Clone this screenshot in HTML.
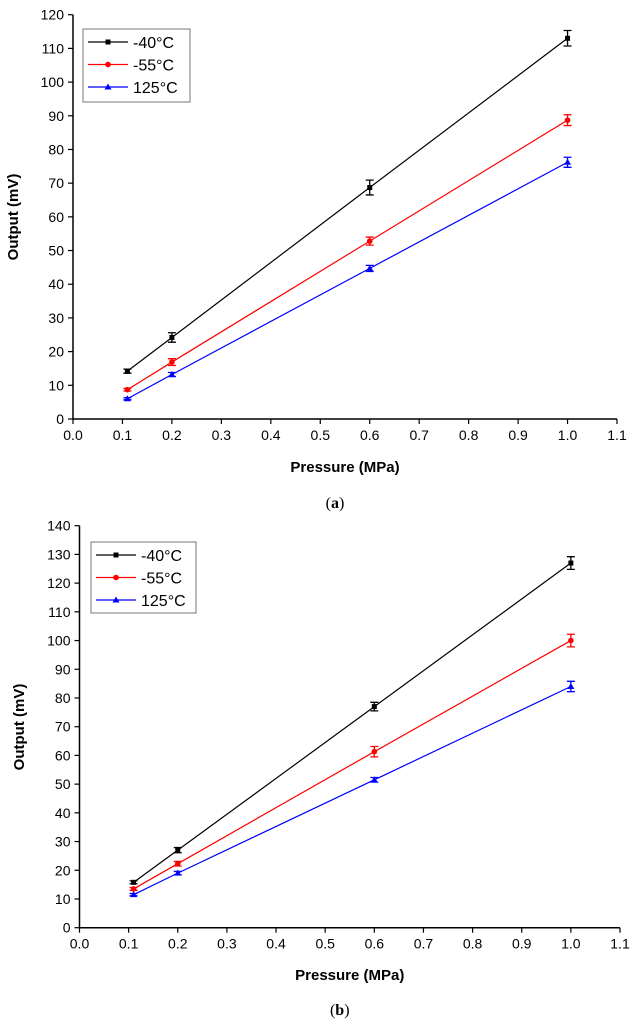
<!DOCTYPE html>
<html><head><meta charset="utf-8"><style>
body{margin:0;background:#fff;width:634px;height:1024px;overflow:hidden}
svg{display:block}
text{font-family:"Liberation Sans",sans-serif}
</style></head><body>
<svg id="svg" width="634" height="1024"></svg>
<script>
const categories=[0.11,0.2,0.6,1.0];
const seriesNames=["-40°C","-55°C","125°C"];
const aVals=[[14.2,24.2,68.7,113],[8.7,16.9,52.8,88.7],[6,13.2,44.7,76.2]];
const aErrs=[[0.6,1.4,2.2,2.3],[0.4,1,1.2,1.6],[0.3,0.6,0.9,1.5]];
const bVals=[[15.8,27,77,127],[13.5,22.3,61.3,100],[11.5,19,51.5,84]];
const bErrs=[[0.5,0.9,1.5,2.2],[0.5,0.8,1.8,2.2],[0.4,0.6,0.8,1.8]];
const xTicks=["0.0","0.1","0.2","0.3","0.4","0.5","0.6","0.7","0.8","0.9","1.0","1.1"];
const colors=["#000","#f00","#00f"];
const NS="http://www.w3.org/2000/svg";
const svg=document.getElementById('svg');
function el(t,a,p){const e=document.createElementNS(NS,t);for(const k in a)e.setAttribute(k,a[k]);(p||svg).appendChild(e);return e;}
function chart(cfg){
 const g=el('g',{});
 
 
 const X=v=>cfg.x0+(cfg.x1-cfg.x0)*v/1.1;
 const Y=v=>cfg.y0-(cfg.y0-cfg.y1)*v/cfg.ymax;
 const ax=el('path',{d:`M${cfg.x0},${cfg.y1} V${cfg.y0} H${cfg.x1}`,stroke:'#000','stroke-width':1.5,fill:'none'},g);
 
 xTicks.forEach((t,i)=>{const x=X(i*0.1);
  el('line',{x1:x,x2:x,y1:cfg.y0,y2:cfg.y0+5,stroke:'#000','stroke-width':1.2},g);
  const tx=el('text',{x:x,y:cfg.y0+21,'font-size':14,'text-anchor':'middle'},g);tx.textContent=t;
  });
 for(let v=0;v<=cfg.ymax;v+=10){const y=Y(v);
  el('line',{x1:cfg.x0-5,x2:cfg.x0,y1:y,y2:y,stroke:'#000','stroke-width':1.2},g);
  const tx=el('text',{x:cfg.x0-9,y:y+5,'font-size':14,'text-anchor':'end'},g);tx.textContent=v;
  }
 const yt=el('text',{transform:`translate(${cfg.ytx},${cfg.ytY}) rotate(-90)`,'font-size':15,'font-weight':'bold','text-anchor':'middle'},g);
 yt.textContent='Output (mV)';
 const xt=el('text',{x:(cfg.x0+cfg.x1)/2,y:cfg.xtY,'font-size':15,'font-weight':'bold','text-anchor':'middle'},g);
 xt.textContent='Pressure (MPa)';
 const cap=el('text',{x:(cfg.x0+cfg.x1)/2-10,y:cfg.capY,'font-size':16,'text-anchor':'middle',style:'font-family:"Liberation Serif",serif'},g);
 cap.innerHTML='(<tspan font-weight="bold">'+cfg.cap+'</tspan>)';
 cfg.vals.forEach((s,si)=>{
  const c=colors[si];
  const ln=el('polyline',{points:s.map((v,i)=>X(categories[i])+','+Y(v)).join(' '),stroke:c,fill:'none','stroke-width':1.2},g);
  
  s.forEach((v,i)=>{const x=X(categories[i]),y=Y(v),e=cfg.errs[si][i];
   const eb=el('path',{d:`M${x-4},${Y(v+e)}H${x+4}M${x},${Y(v+e)}V${Y(v-e)}M${x-4},${Y(v-e)}H${x+4}`,stroke:c,'stroke-width':1.3,fill:'none'},g);
   
   let m;
   if(si==0)m=el('rect',{x:x-2.5,y:y-2.5,width:5,height:5,fill:c},g);
   else if(si==1)m=el('circle',{cx:x,cy:y,r:2.8,fill:c},g);
   else m=el('path',{d:`M${x},${y-3.5}L${x+3.5},${y+2.5}L${x-3.5},${y+2.5}Z`,fill:c},g);
   });
 });
 const L=cfg.leg;
 const lg=el('g',{},g);
 el('rect',{x:L[0],y:L[1],width:L[2],height:L[3],fill:'#fff',stroke:'#777','stroke-width':1},lg);
 seriesNames.forEach((n,si)=>{const y=L[1]+13+si*22.5,c=colors[si],x1=L[0]+5,x2=L[0]+45,xm=(x1+x2)/2;
  el('line',{x1:x1,x2:x2,y1:y,y2:y,stroke:c,'stroke-width':1.2},lg);
  if(si==0)el('rect',{x:xm-2.5,y:y-2.5,width:5,height:5,fill:c},lg);
  else if(si==1)el('circle',{cx:xm,cy:y,r:2.8,fill:c},lg);
  else el('path',{d:`M${xm},${y-3.5}L${xm+3.5},${y+2.5}L${xm-3.5},${y+2.5}Z`,fill:c},lg);
  const t=el('text',{x:L[0]+50,y:y+6,'font-size':16},lg);t.textContent=n;
  });
}
chart({name:'chart-a',x0:73,x1:617,y0:419,y1:14.7,ymax:120,vals:aVals,errs:aErrs,ytx:18,ytY:217,xtY:472,capY:508,cap:'a',leg:[83,29,107,73]});
chart({name:'chart-b',x0:79.5,x1:620,y0:927.7,y1:525.7,ymax:140,vals:bVals,errs:bErrs,ytx:24,ytY:727,xtY:980,capY:1015,cap:'b',leg:[91,542,105,71]});
</script>
</body></html>
